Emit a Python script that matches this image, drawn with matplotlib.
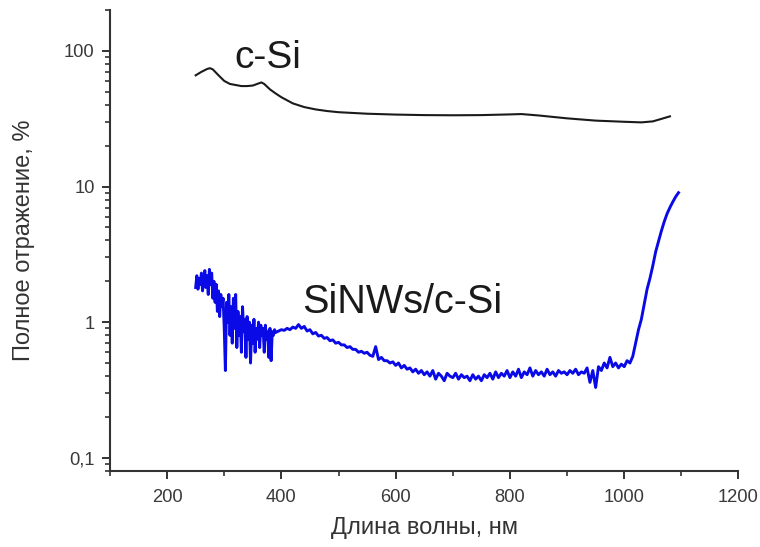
import numpy as np
import matplotlib
matplotlib.use('Agg')
import matplotlib.pyplot as plt
from matplotlib.ticker import FixedLocator, FuncFormatter, MultipleLocator, LogLocator, NullFormatter

plt.rcParams['font.family'] = ['Liberation Sans', 'DejaVu Sans']

# c-Si reflectance (black)
csi_wl = [250, 260, 270, 275, 280, 290, 300, 310, 320, 330, 340, 350, 360, 365, 370,
          380, 390, 400, 420, 440, 460, 480, 500, 550, 600, 650, 700, 750, 800, 820,
          850, 900, 950, 1000, 1030, 1050, 1065, 1080]
csi_r = [66, 70, 73.5, 74.5, 73, 66, 60, 57, 56, 55, 55, 55.5, 57.5, 58.5, 57,
         52, 48.5, 45.5, 41, 38.5, 37, 36, 35.3, 34.4, 33.9, 33.6, 33.5, 33.6, 34.0, 34.2,
         33.4, 31.8, 30.6, 30.0, 29.7, 30.2, 31.5, 32.9]

# SiNWs/c-Si reflectance (blue), noisy UV part sampled every 2 nm
nw_wl_uv = np.arange(250, 391, 2)
nw_r_uv = [1.8, 2.2, 1.75, 2.1, 1.9, 2.3, 1.7, 2.0, 2.4, 1.8, 2.2, 1.6, 2.45, 1.9, 2.3,
           1.5, 2.0, 1.4, 1.9, 1.2, 1.7, 1.1, 1.6, 1.3, 1.5, 0.9, 0.44, 1.4, 1.0, 1.6,
           0.8, 1.3, 0.7, 1.5, 0.9, 1.6, 0.65, 1.2, 0.8, 1.1, 0.6, 1.3, 0.85, 1.05, 0.55,
           1.1, 0.75, 1.0, 0.5, 0.95, 0.7, 1.05, 0.6, 0.9, 0.75, 1.0, 0.65, 0.95, 0.8, 0.9,
           0.6, 0.95, 0.75, 0.85, 0.55, 0.9, 0.52, 0.85, 0.8, 0.88, 0.84]

# visible / NIR part sampled every 5 nm
nw_wl_vis = np.arange(395, 1096, 5)
nw_r_vis = [0.86, 0.88, 0.87, 0.9, 0.88, 0.92, 0.9, 0.96, 0.9, 0.93, 0.86, 0.88, 0.82, 0.84, 0.79,
            0.8, 0.76, 0.77, 0.73, 0.74, 0.7, 0.71, 0.68, 0.68, 0.65, 0.66, 0.63, 0.63, 0.6, 0.61,
            0.59, 0.6, 0.57, 0.56, 0.66, 0.53, 0.55, 0.52, 0.52, 0.5, 0.51, 0.48, 0.5, 0.46, 0.48,
            0.45, 0.46, 0.43, 0.45, 0.42, 0.44, 0.41, 0.43, 0.4, 0.44, 0.38, 0.42, 0.4, 0.37, 0.42,
            0.4, 0.39, 0.42, 0.38, 0.41, 0.39, 0.4, 0.37, 0.41, 0.38, 0.4, 0.37, 0.41, 0.39, 0.42,
            0.38, 0.43, 0.39, 0.42, 0.4, 0.44, 0.39, 0.43, 0.4, 0.45, 0.39, 0.43, 0.41, 0.46, 0.4,
            0.44, 0.41, 0.43, 0.4, 0.45, 0.41, 0.43, 0.4, 0.44, 0.42, 0.43, 0.41, 0.44, 0.42, 0.45,
            0.41, 0.43, 0.42, 0.46, 0.36, 0.44, 0.33, 0.47, 0.44, 0.5, 0.46, 0.55, 0.47, 0.5, 0.46,
            0.49, 0.47, 0.52, 0.5, 0.56, 0.7, 0.88, 1.05, 1.35, 1.75, 2.1, 2.6, 3.3, 3.95, 4.7,
            5.5, 6.3, 7.0, 7.7, 8.4, 9.0]

y_ticks = [0.1, 1, 10, 100]
y_tick_labels = ['0,1', '1', '10', '100']

fig = plt.figure(figsize=(7.6, 5.47), dpi=100)
ax = fig.add_axes([0.1447, 0.139, 0.827, 0.8427])

nw_wl = np.concatenate([nw_wl_uv, nw_wl_vis])
nw_r = np.concatenate([nw_r_uv, nw_r_vis])
ax.plot(nw_wl, nw_r, color='#0a0ae6', lw=2.1)
ax.plot(csi_wl, csi_r, color='#1a1a1a', lw=1.5)

ax.set_yscale('log')
ax.set_xlim(100, 1200)
ax.set_ylim(0.08, 200)

ax.xaxis.set_major_locator(MultipleLocator(200))
ax.xaxis.set_minor_locator(MultipleLocator(100))
ax.yaxis.set_major_locator(FixedLocator(y_ticks))
ax.yaxis.set_major_formatter(FuncFormatter(lambda v, p: dict(zip(y_ticks, y_tick_labels)).get(v, '')))
ax.yaxis.set_minor_locator(LogLocator(base=10, subs=np.arange(2, 10)))
ax.yaxis.set_minor_formatter(NullFormatter())

for side in ['top', 'right']:
    ax.spines[side].set_visible(False)
for side in ['left', 'bottom']:
    ax.spines[side].set_linewidth(1.5)
    ax.spines[side].set_color('#333333')

ax.tick_params(which='major', direction='out', length=6, width=1.4, color='#333333',
               labelsize=13.2, labelcolor='#3a3a3a')
ax.tick_params(axis='x', which='major', pad=7)
ax.tick_params(axis='y', which='major', pad=5)
ax.tick_params(which='minor', direction='out', length=3.5, width=1.2, color='#333333')

ax.set_xlabel('Длина волны, нм', fontsize=17, color='#333333', labelpad=8)
ax.set_ylabel('Полное отражение, %', fontsize=17, color='#333333', labelpad=21)

ax.text(318, 89, 'c-Si', fontsize=28, color='#1a1a1a', va='center', ha='left')
ax.text(436, 1.4, 'SiNWs/c-Si', fontsize=28.5, color='#1a1a1a', va='center', ha='left')

fig.savefig('out.png', dpi=100, facecolor='white')
